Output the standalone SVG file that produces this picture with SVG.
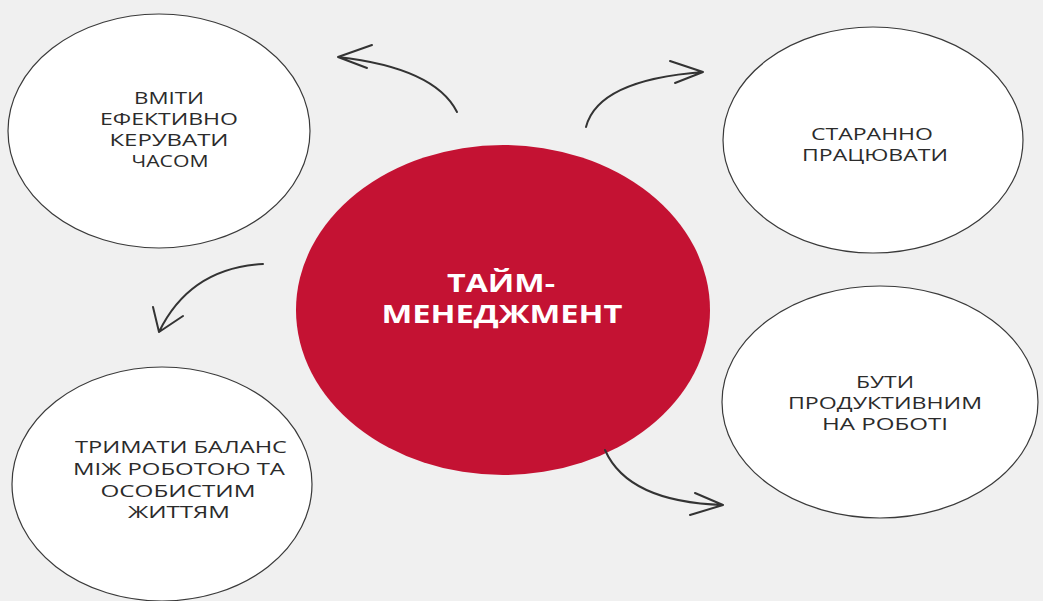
<svg xmlns="http://www.w3.org/2000/svg" width="1043" height="601" viewBox="0 0 1043 601">
<style>
.bub{fill:#ffffff;stroke:#3a3a3a;stroke-width:1.2}
.t{font-family:"Open Sans","Liberation Sans",sans-serif;font-size:15.5px;font-weight:500;fill:#2b2b2b;text-anchor:middle}
.c{font-family:"Open Sans","Liberation Sans",sans-serif;font-size:25px;font-weight:700;fill:#ffffff;text-anchor:middle}
.arr{fill:none;stroke:#333333;stroke-width:2;stroke-linecap:round;stroke-linejoin:round}
</style>
<rect x="0" y="0" width="1043" height="601" fill="#f0f0f0"/>
<g id="node-top-left">
<ellipse class="bub" cx="159" cy="131" rx="151" ry="117"/>
<text class="t" x="169" y="104" textLength="70" lengthAdjust="spacingAndGlyphs">ВМІТИ</text>
<text class="t" x="169" y="125" textLength="138" lengthAdjust="spacingAndGlyphs">ЕФЕКТИВНО</text>
<text class="t" x="169" y="146" textLength="119" lengthAdjust="spacingAndGlyphs">КЕРУВАТИ</text>
<text class="t" x="170" y="167" textLength="77" lengthAdjust="spacingAndGlyphs">ЧАСОМ</text>
</g>
<g id="node-top-right">
<ellipse class="bub" cx="873" cy="140" rx="150" ry="113"/>
<text class="t" x="872" y="140" textLength="122" lengthAdjust="spacingAndGlyphs">СТАРАННО</text>
<text class="t" x="875" y="161" textLength="146" lengthAdjust="spacingAndGlyphs">ПРАЦЮВАТИ</text>
</g>
<g id="node-bottom-right">
<ellipse class="bub" cx="880" cy="402" rx="158" ry="116"/>
<text class="t" x="885" y="388" textLength="58" lengthAdjust="spacingAndGlyphs">БУТИ</text>
<text class="t" x="885" y="409" textLength="194" lengthAdjust="spacingAndGlyphs">ПРОДУКТИВНИМ</text>
<text class="t" x="885" y="430" textLength="126" lengthAdjust="spacingAndGlyphs">НА РОБОТІ</text>
</g>
<g id="node-bottom-left">
<ellipse class="bub" cx="162" cy="484" rx="150" ry="117"/>
<text class="t" x="181" y="453" textLength="212" lengthAdjust="spacingAndGlyphs">ТРИМАТИ БАЛАНС</text>
<text class="t" x="179" y="475" textLength="212" lengthAdjust="spacingAndGlyphs">МІЖ РОБОТОЮ ТА</text>
<text class="t" x="178" y="497" textLength="155" lengthAdjust="spacingAndGlyphs">ОСОБИСТИМ</text>
<text class="t" x="179" y="518" textLength="102" lengthAdjust="spacingAndGlyphs">ЖИТТЯМ</text>
</g>
<g id="node-center">
<ellipse cx="503" cy="310" rx="207" ry="165" fill="#c41233"/>
<text class="c" x="501" y="292" textLength="108" lengthAdjust="spacingAndGlyphs">ТАЙМ-</text>
<text class="c" x="502" y="323" textLength="241" lengthAdjust="spacingAndGlyphs">МЕНЕДЖМЕНТ</text>
</g>
<g id="connectors">
<path class="arr" d="M457,112 Q435,68 338,57 M372,45 L338,57 L367,68"/>
<path class="arr" d="M586,127 Q598,80 703,72 M670,61 L703,72 L675,83"/>
<path class="arr" d="M263,264 Q190,268 159,332 M153,307 L159,332 L183,316"/>
<path class="arr" d="M605,450 Q628,502 723,505 M695,493 L723,505 L690,515"/>
</g>
</svg>
